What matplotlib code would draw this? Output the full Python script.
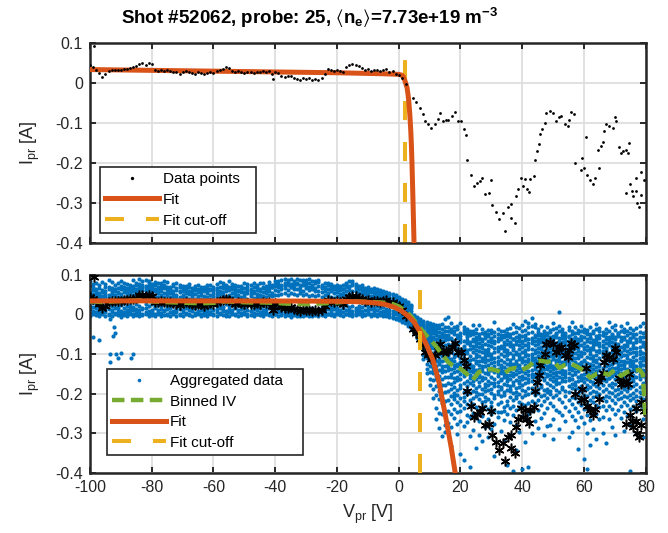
import numpy as np
import matplotlib
matplotlib.use('Agg')
import matplotlib.pyplot as plt
from matplotlib.lines import Line2D

plt.rcParams['font.family'] = ['Liberation Sans', 'DejaVu Sans']
plt.rcParams['axes.unicode_minus'] = False
plt.rcParams['mathtext.fontset'] = 'custom'
plt.rcParams['mathtext.rm'] = 'Liberation Sans'
plt.rcParams['mathtext.bf'] = 'Liberation Sans:bold'
plt.rcParams['mathtext.it'] = 'Liberation Sans:italic'
plt.rcParams['mathtext.default'] = 'regular'
plt.rcParams['lines.scale_dashes'] = False

# ---------------- data ----------------
title_text = r'Shot #52062, probe: 25, $\langle$n$_\mathbf{e}\rangle$=7.73e+19 m$^\mathbf{-3}$'
x_ticks = [-100, -80, -60, -40, -20, 0, 20, 40, 60, 80]
y_ticks = [-0.4, -0.3, -0.2, -0.1, 0, 0.1]
y_tick_labels = ['-0.4', '-0.3', '-0.2', '-0.1', '0', '0.1']

# probe data of this shot (V, mA)
shot_v_left = list(range(-100, 2))
shot_i_left = [45, 40, 33, 25, 15, 22, 30, 33, 34, 33,
               34, 35, 36, 38, 40, 42, 48, 50, 46, 50,
               47, 32, 30, 33, 30, 32, 31, 29, 27, 24,
               28, 31, 29, 26, 24, 27, 25, 22, 25, 28,
               25, 31, 33, 36, 40, 37, 30, 27, 30, 28,
               25, 29, 27, 26, 29, 27, 30, 29, 31, 22,
               28, 26, 18, 15, 17, 19, 14, 11, 8, 13,
               10, 12, 9, 11, 8, 12, 22, 36, 33, 31,
               33, 30, 27, 40, 45, 47, 46, 42, 38, 33,
               36, 31, 33, 34, 31, 33, 35, 29, 31, 24, 20, 12]
shot_v_extra = [-98.7, -40.6]
shot_i_extra = [93, 11]
shot_v_right = [2.5, 4.6, 5.7, 6.8, 7.9, 8.4, 9.5, 10.6, 11.7, 12.7, 13.3, 14.4, 15.2, 16, 17.1,
                18.1, 19.2, 20.3, 21.1, 21.7, 22.1, 23.5, 24.3, 25.3, 26.2, 27.1, 27.8, 29.2,
                29.8, 30.2, 31.4, 32.5, 33.8, 34.3, 35.4, 36.2, 36.5, 37.8, 37.9, 38.6, 39.5,
                40.3, 40.8, 41.4, 42.2, 42.6, 43.8, 44.2, 44.9, 45.4, 45.9, 46.5, 47.3, 47.8,
                48.9, 50, 50.8, 51.9, 52.4, 53.7, 54.8, 55.1, 55.9, 56.7, 57.2, 58.9, 59.4,
                60, 60.5, 61, 61.8, 62.9, 63.7, 64.5, 64.8, 65.5, 66, 66.4, 67.1, 68.2, 69.3,
                70.1, 70.4, 71.4, 71.9, 72.5, 73.5, 73.7, 74.4, 74.6, 74.8, 75.4, 76, 76.8,
                77, 77.2, 77.8, 78.4, 78.6, 79.4]
shot_i_right = [-3, -37, -47, -62, -78, -95, -103, -112, -103, -90, -74, -95, -92, -93, -83,
                -73, -95, -95, -114, -130, -193, -230, -258, -250, -245, -237, -278, -276,
                -243, -305, -323, -341, -324, -370, -310, -303, -337, -350, -283, -265, -237,
                -258, -240, -265, -273, -240, -233, -193, -170, -152, -128, -114, -100, -74,
                -70, -74, -95, -84, -83, -103, -108, -91, -72, -77, -200, -217, -187,
                -213, -134, -230, -242, -253, -238, -168, -213, -158, -148, -120, -103, -107, -112,
                -85, -95, -160, -175, -170, -168, -276, -175, -150, -253, -270, -283, -270,
                -237, -300, -310, -222, -280, -243]

# fit, top panel (V, mA)
fit_top_v = [-100, -60, -20, -5, 0, 1, 1.5, 2, 2.4, 2.7, 3.0, 3.24, 3.6, 3.9, 4.1, 4.3, 4.6, 4.95, 5.1]
fit_top_i = [34, 30, 26, 23.5, 22, 20, 16, 6, -4, -12, -28, -45, -80, -120, -155, -203, -290, -400, -450]
cutoff_top = 2.0

# fit, bottom panel (V, mA)
fit_bot_v = [-100, -60, -30, -20, -14, -10, -7, -5, -3, -1, 1, 3, 5, 7, 9, 11, 13, 15, 17, 18.5]
fit_bot_i = [34, 34, 33.5, 33, 32, 30.5, 28.5, 26, 22, 16.5, 8, -4, -20, -45, -77, -113, -170, -250, -336, -410]
cutoff_bot = 6.8

# binned IV (V, mA)
binned_v = [-100, -96, -92, -88, -84, -80, -76, -72, -68, -64, -60, -56, -52, -48, -44, -40, -36, -32,
            -28, -24, -20, -16, -12, -8, -4, -2, 0, 2, 4, 6, 8, 10, 12, 14, 16, 18, 20, 22, 24,
            26, 28, 30, 32, 34, 36, 38, 40, 42, 44, 46, 48, 50, 52, 54, 56, 58, 60, 62, 64, 66,
            68, 70, 72, 74, 76, 78, 79, 80]
binned_i = [33, 31, 33, 34, 35, 33, 31, 30, 29, 28, 29, 33, 31, 30, 30, 29, 27, 26,
            26, 28, 30, 33, 32, 31, 29, 26, 20, 10, -5, -25, -45, -62, -80, -100, -120, -132, -137, -150, -165,
            -145, -140, -138, -142, -150, -138, -135, -140, -132, -118, -117, -120, -117, -135, -127, -125, -133, -142, -160, -150, -148,
            -152, -140, -155, -145, -142, -140, -150, -270]

# aggregated data of many sweeps: one list of currents (mA) per 1 V column
agg_left_v = list(range(-100, 5))
agg_left_i = [
    [85, 71, 57, 49, 41, 22, 13, 4, -3], [68, 62, 51, 44, 30, 18, 9, 1, 77],
    [79, 58, 53, 46, 26, 15, 7, -2, 64], [73, 66, 55, 42, 20, 11, 3, -5, 48],
    [61, 56, 47, 39, 24, 16, 8, 0, 82], [76, 69, 52, 45, 19, 12, 5, -4, 59],
    [70, 63, 50, 43, 27, 14, 2, -1, 87], [82, 60, 54, 48, 21, 10, 6, -3, 66],
    [65, 59, 49, 40, 25, 17, 4, 0, 74], [78, 67, 57, 44, 18, 13, 7, -2, 53],
    [72, 64, 51, 46, 23, 9, 1, -6, 84], [80, 62, 56, 42, 28, 15, 5, -1, 69],
    [67, 58, 52, 47, 20, 12, 3, -4, 76], [75, 70, 55, 41, 24, 16, 8, 0, 62],
    [86, 66, 60, 49, 19, 11, 2, -3, 71], [79, 73, 58, 51, 26, 14, 6, -1, 65],
    [88, 69, 63, 54, 22, 10, 4, -5, 77], [83, 75, 61, 50, 17, 13, 1, -2, 68],
    [71, 66, 59, 47, 25, 15, 7, 0, 86], [84, 78, 64, 53, 21, 9, 3, -4, 72],
    [76, 70, 57, 49, 27, 12, 5, -1, 63], [81, 65, 60, 46, 18, 16, 2, -3, 74],
    [69, 62, 55, 44, 23, 11, 6, 0, 80], [78, 71, 58, 48, 20, 14, 4, -5, 66],
    [73, 67, 53, 45, 25, 10, 8, -2, 85], [82, 63, 57, 50, 19, 13, 1, -1, 70],
    [70, 65, 54, 43, 22, 15, 5, -4, 61], [77, 59, 52, 47, 26, 9, 3, 0, 72],
    [66, 61, 50, 42, 17, 12, 7, -3, 79], [74, 68, 56, 45, 24, 14, 2, -2, 60],
    [63, 58, 49, 41, 20, 11, 6, -5, 71], [72, 64, 53, 44, 27, 16, 4, 0, 57],
    [68, 60, 51, 40, 18, 10, 1, -1, 76], [59, 55, 48, 43, 23, 13, 8, -4, 67],
    [71, 62, 52, 39, 21, 15, 3, -2, 64], [65, 57, 47, 42, 25, 9, 5, 0, 74],
    [62, 56, 50, 38, 19, 12, 2, -3, 69], [70, 61, 46, 41, 24, 14, 7, -1, 58],
    [66, 59, 53, 44, 17, 11, 4, -5, 75], [73, 63, 49, 40, 22, 16, 6, 0, 61],
    [64, 58, 51, 43, 26, 10, 1, -2, 70], [77, 67, 54, 46, 20, 13, 5, -4, 62],
    [69, 60, 52, 42, 23, 15, 3, 0, 81], [80, 72, 57, 48, 18, 12, 8, -1, 67],
    [75, 64, 59, 45, 25, 9, 2, -3, 71], [83, 70, 61, 50, 21, 14, 6, -5, 66],
    [68, 63, 55, 44, 27, 11, 4, 0, 76], [74, 66, 53, 47, 19, 16, 1, -2, 60],
    [62, 59, 50, 41, 24, 10, 7, -4, 72], [71, 65, 56, 45, 22, 13, 3, -1, 63],
    [67, 57, 49, 43, 17, 15, 5, 0, 78], [76, 61, 54, 40, 26, 12, 2, -3, 69],
    [64, 60, 52, 46, 20, 9, 8, -2, 73], [79, 68, 55, 42, 23, 14, 4, -5, 58],
    [70, 62, 51, 44, 18, 11, 1, 0, 75], [65, 59, 48, 41, 25, 16, 6, -1, 80],
    [78, 69, 57, 47, 21, 10, 3, -4, 66], [72, 64, 53, 45, 27, 13, 7, 0, 61],
    [81, 67, 58, 49, 19, 15, 2, -2, 74], [74, 70, 55, 46, 24, 12, 5, -3, 68],
    [84, 71, 62, 50, 22, 9, 1, 0, 77], [77, 68, 60, 48, 17, 14, 6, -5, 83],
    [86, 75, 64, 52, 21, 8, 3, -1, 71], [88, 79, 66, 54, 15, 6, 0, -4, 73],
    [82, 74, 61, 50, 19, 9, 2, -2, 87], [89, 77, 68, 55, 13, 4, -3, -6, 70],
    [85, 72, 63, 51, 16, 7, 1, -1, 80], [79, 76, 65, 48, 12, 5, -2, -5, 88],
    [87, 70, 62, 53, 14, 8, 0, -3, 75], [81, 73, 59, 49, 11, 3, -4, -1, 86],
    [86, 78, 66, 52, 17, 6, 1, -2, 72], [80, 69, 61, 47, 13, 4, -1, -5, 88],
    [84, 75, 64, 50, 15, 7, 2, -3, 71], [78, 67, 58, 46, 10, 5, -2, 0, 83],
    [82, 72, 60, 49, 14, 8, 1, -4, 87], [75, 66, 57, 45, 18, 9, 3, -1, 70],
    [79, 70, 59, 48, 20, 11, 4, -3, 65], [73, 64, 55, 46, 23, 13, 2, 0, 78],
    [77, 68, 58, 44, 19, 10, 6, -2, 62], [71, 63, 53, 42, 22, 14, 1, -4, 67],
    [75, 66, 56, 47, 17, 9, 5, 0, 60], [69, 61, 52, 43, 25, 12, 3, -1, 72],
    [74, 65, 55, 46, 20, 15, 7, -3, 63], [80, 70, 59, 49, 23, 10, 2, 0, 76],
    [83, 72, 61, 51, 18, 13, 5, -2, 68], [78, 74, 58, 50, 21, 8, 1, -4, 85],
    [76, 67, 60, 48, 16, 11, 4, -1, 71], [71, 65, 54, 45, 22, 14, 6, 0, 64],
    [69, 62, 53, 44, 19, 9, 3, -3, 75], [67, 60, 51, 42, 24, 12, 1, -2, 58],
    [65, 57, 49, 40, 18, 10, 5, 0, 70], [63, 56, 47, 39, 21, 13, 2, -4, 60],
    [61, 54, 46, 38, 16, 8, 4, -1, 67], [59, 52, 44, 36, 20, 11, 0, -3, 64],
    [57, 50, 43, 35, 15, 7, 3, -2, 62], [55, 49, 41, 33, 18, 9, 1, -5, 59],
    [53, 47, 40, 31, 14, 6, -1, -3, 57], [51, 45, 38, 30, 12, 4, -4, -6, 55],
    [48, 42, 35, 27, 9, 2, -6, -8, 52], [45, 39, 32, 24, 6, 0, -8, -11, 49],
    [41, 35, 28, 20, 3, -4, -11, -14, 45], [37, 31, 24, 16, -1, -8, -15, -18, 40],
    [32, 26, 19, 11, -5, -12, -19, -23, 35], [27, 21, 14, 6, -10, -17, -24, -29, 30],
    [21, 15, 8, 0, -15, -22, -30, -35, 24]]
agg_out_v = [-99, -97.2, -93.4, -92.3, -91.9, -92.6, -93.4, -91.5, -90.1, -91, -93.5, -86.7, -86.2]
agg_out_i = [-58, -65, -12, -33, -47, -55, -100, -101, -98, -110, -120, -110, -100]

agg_right_v = list(range(5, 81))
agg_right_i = [
    [-2, -6, -9, -13, -15, -19, -22, -25, -27, -31, -33, -36, -39, -41, -44, -47, -11, -29, -17, -4],
    [-7, -10, -14, -17, -21, -24, -29, -32, -35, -38, -43, -47, -51, -56, -60, -12, -26, -40, -19, -53],
    [-11, -15, -19, -23, -28, -31, -36, -41, -45, -49, -54, -59, -65, -71, -78, -25, -38, -62, -17, -44],
    [-16, -21, -27, -33, -37, -44, -49, -56, -61, -67, -74, -82, -91, -103, -112, -30, -52, -86, -24, -70],
    [-19, -26, -31, -38, -45, -51, -58, -66, -73, -81, -90, -99, -111, -124, -138, -35, -63, -94, -148, -42],
    [-23, -29, -36, -44, -51, -59, -67, -76, -85, -94, -105, -117, -131, -145, -162, -178, -40, -71, -113, -55],
    [-25, -32, -39, -48, -57, -66, -75, -86, -97, -108, -121, -134, -149, -166, -187, -212, -43, -80, -143, -61],
    [-26, -34, -42, -51, -61, -71, -82, -93, -105, -118, -131, -146, -163, -181, -204, -236, -264, -47, -89, -155],
    [-28, -35, -44, -54, -64, -75, -87, -99, -112, -125, -140, -155, -172, -192, -214, -248, -286, -58, -119, -69],
    [-24, -37, -46, -56, -67, -79, -91, -104, -117, -131, -146, -162, -179, -199, -223, -252, -306, -50, -84, -139],
    [-11, -33, -43, -53, -64, -76, -89, -101, -115, -129, -144, -159, -177, -196, -219, -246, -279, -60, -97, -297],
    [-7, -31, -41, -52, -63, -74, -86, -99, -112, -126, -141, -157, -174, -193, -216, -243, -274, -57, -105, -133],
    [-21, -38, -44, -59, -63, -78, -90, -96, -113, -121, -139, -150, -158, -176, -189, -207, -226, -251, -283, -331],
    [-33, -41, -50, -66, -72, -81, -99, -108, -117, -134, -145, -161, -170, -183, -199, -214, -238, -262, -205, -128],
    [-29, -36, -53, -60, -75, -84, -92, -103, -125, -131, -142, -157, -166, -191, -203, -221, -247, -276, -301, -88],
    [-22, -47, -55, -62, -70, -87, -98, -111, -119, -128, -151, -163, -178, -186, -210, -229, -243, -268, -352, -140],
    [-31, -39, -48, -67, -79, -85, -101, -109, -124, -136, -147, -155, -172, -195, -208, -219, -236, -281, -368, -93],
    [-37, -45, -58, -64, -73, -91, -97, -114, -120, -139, -149, -167, -181, -190, -201, -225, -255, -272, -132, -52],
    [-48, -42, -51, -69, -77, -88, -106, -115, -126, -133, -153, -160, -174, -198, -216, -232, -258, -307, -384, -143],
    [-28, -43, -49, -61, -80, -86, -95, -112, -130, -137, -146, -169, -177, -193, -211, -227, -249, -291, -66, -158],
    [-36, -46, -57, -65, -71, -89, -100, -107, -122, -141, -154, -162, -185, -196, -206, -234, -262, -338, -118, -79],
    [-26, -50, -56, -72, -83, -92, -104, -117, -127, -138, -152, -171, -180, -200, -213, -241, -269, -303, -63, -159],
    [-38, -47, -61, -68, -76, -94, -110, -118, -135, -144, -157, -165, -188, -202, -222, -237, -256, -320, -85, -129],
    [-44, -53, -59, -74, -90, -97, -105, -121, -131, -148, -161, -175, -184, -209, -218, -230, -284, -52, -113, -193],
    [-50, -40, -55, -67, -78, -87, -103, -114, -128, -139, -150, -168, -179, -191, -214, -239, -263, -309, -96, -146],
    [-39, -48, -62, -70, -81, -99, -107, -123, -134, -141, -158, -172, -187, -198, -220, -232, -251, -288, -60, -113],
    [-20, -45, -54, -73, -84, -95, -111, -119, -129, -145, -164, -173, -181, -204, -212, -240, -276, -356, -67, -137],
    [-36, -49, -60, -66, -82, -93, -108, -125, -137, -147, -155, -170, -192, -201, -226, -245, -258, -88, -117, -180],
    [-42, -51, -63, -79, -86, -101, -116, -127, -140, -149, -166, -183, -189, -207, -221, -247, -294, -58, -132, -162],
    [-52, -43, -57, -69, -85, -92, -106, -120, -132, -151, -159, -176, -195, -203, -233, -244, -267, -317, -78, -143],
    [-38, -46, -65, -74, -91, -98, -113, -124, -138, -152, -168, -177, -191, -218, -228, -250, -379, -55, -102, -160],
    [-34, -50, -58, -71, -80, -97, -115, -122, -143, -153, -162, -181, -194, -209, -236, -271, -304, -69, -130, -188],
    [-24, -47, -61, -77, -89, -103, -109, -126, -134, -156, -171, -179, -199, -217, -230, -253, -394, -86, -148, -62],
    [-31, -44, -56, -68, -94, -100, -118, -131, -141, -150, -165, -186, -197, -212, -241, -279, -341, -75, -123, -205],
    [-35, -52, -60, -78, -87, -99, -112, -136, -145, -158, -169, -182, -201, -222, -234, -297, -66, -106, -173, -127],
    [-26, -42, -55, -67, -83, -96, -110, -121, -139, -155, -163, -178, -190, -208, -227, -257, -389, -73, -144, -116],
    [-17, -39, -51, -64, -76, -90, -104, -117, -128, -147, -160, -174, -193, -204, -228, -261, -321, -58, -98, -137],
    [-21, -33, -48, -62, -73, -88, -102, -113, -130, -142, -154, -170, -185, -200, -224, -250, -386, -81, -119, -163],
    [-10, -29, -45, -59, -71, -87, -99, -115, -126, -140, -157, -168, -186, -197, -219, -244, -299, -64, -108, -151],
    [-25, -33, -51, -58, -77, -90, -97, -115, -122, -139, -151, -158, -176, -195, -203, -224, -270, -68, -131, -109],
    [-38, -45, -61, -66, -74, -96, -104, -118, -129, -144, -163, -170, -188, -199, -216, -241, -287, -53, -86, -152],
    [-29, -49, -54, -70, -82, -88, -107, -113, -134, -141, -156, -178, -183, -207, -229, -262, -61, -125, -97, -148],
    [-49, -41, -58, -64, -79, -93, -101, -120, -127, -147, -160, -166, -191, -204, -219, -248, -304, -72, -110, -138],
    [-31, -47, -52, -73, -81, -99, -111, -116, -137, -150, -155, -172, -187, -211, -236, -281, -63, -90, -129, -196],
    [-40, -45, -60, -68, -86, -95, -105, -124, -132, -143, -162, -179, -194, -200, -223, -56, -77, -118, -153, -279],
    [-22, -36, -55, -62, -76, -90, -108, -112, -130, -149, -158, -167, -184, -209, -231, -263, -69, -99, -139, -314],
    [-35, -50, -57, -71, -83, -92, -103, -121, -136, -145, -164, -176, -190, -203, -240, -48, -115, -127, -171, -154],
    [7, -30, -43, -59, -66, -84, -94, -110, -117, -128, -146, -157, -173, -197, -214, -245, -74, -102, -290, -135],
    [-37, -44, -53, -69, -80, -98, -106, -119, -140, -151, -161, -182, -188, -220, -255, -60, -89, -125, -168, -144],
    [-51, -46, -58, -64, -78, -87, -104, -114, -126, -142, -159, -169, -192, -206, -233, -270, -71, -97, -150, -121],
    [-33, -39, -58, -74, -82, -95, -113, -123, -138, -148, -165, -181, -196, -217, -244, -55, -67, -131, -310, -160],
    [-18, -42, -49, -63, -79, -91, -100, -116, -133, -153, -162, -175, -185, -208, -227, -257, -72, -108, -297, -140],
    [-31, -48, -56, -67, -86, -97, -109, -128, -135, -146, -170, -178, -199, -212, -235, -266, -60, -121, -150, -187],
    [-39, -46, -61, -70, -84, -103, -111, -125, -143, -157, -167, -186, -201, -221, -246, -283, -78, -92, -339, -134],
    [-29, -43, -54, -65, -77, -94, -106, -119, -131, -152, -166, -180, -194, -210, -229, -260, -58, -99, -158, -122],
    [-36, -45, -57, -73, -88, -98, -114, -130, -139, -160, -171, -191, -204, -214, -238, -274, -82, -118, -364, -151],
    [-47, -40, -50, -68, -81, -90, -107, -122, -135, -147, -163, -177, -189, -206, -226, -254, -300, -61, -389, -141],
    [-33, -49, -60, -69, -85, -101, -110, -126, -144, -154, -168, -183, -199, -216, -237, -267, -56, -93, -329, -133],
    [-41, -47, -64, -79, -87, -104, -117, -128, -149, -158, -175, -193, -209, -222, -249, -290, -71, -139, -170, -112],
    [-25, -38, -55, -62, -75, -92, -103, -121, -133, -150, -161, -181, -195, -207, -228, -251, -66, -143, -314, -114],
    [-35, -43, -59, -72, -80, -96, -109, -124, -141, -155, -172, -186, -200, -213, -234, -263, -52, -89, -155, -130],
    [-53, -44, -51, -67, -83, -93, -106, -119, -136, -147, -165, -178, -192, -211, -232, -258, -76, -101, -299, -158],
    [-37, -46, -62, -71, -89, -100, -112, -131, -142, -162, -169, -188, -205, -218, -241, -57, -84, -125, -324, -150],
    [-20, -41, -56, -64, -78, -97, -108, -118, -138, -149, -160, -179, -197, -209, -230, -265, -69, -127, -161, -143],
    [-32, -50, -53, -70, -85, -94, -115, -125, -145, -156, -173, -184, -198, -215, -239, -60, -79, -134, -284, -107],
    [-26, -39, -58, -63, -76, -91, -104, -120, -134, -151, -164, -176, -191, -206, -224, -252, -71, -111, -304, -145],
    [-46, -47, -55, -74, -87, -99, -113, -130, -146, -157, -167, -187, -202, -214, -240, -52, -93, -122, -163, -139],
    [-30, -42, -57, -66, -82, -95, -106, -127, -137, -152, -171, -180, -196, -211, -231, -261, -64, -117, -149, -105],
    [-38, -45, -61, -77, -84, -102, -118, -128, -148, -159, -177, -189, -207, -220, -246, -56, -90, -136, -294, -123],
    [-22, -43, -52, -68, -80, -93, -111, -121, -139, -150, -166, -182, -194, -209, -229, -257, -75, -103, -169, -144],
    [-34, -48, -60, -69, -88, -97, -114, -126, -142, -161, -170, -186, -203, -216, -238, -279, -63, -119, -394, -131],
    [-50, -40, -54, -72, -79, -96, -108, -124, -140, -153, -168, -181, -198, -212, -230, -58, -86, -133, -160, -117],
    [-35, -49, -63, -70, -86, -103, -115, -130, -144, -158, -175, -190, -205, -218, -243, -269, -67, -95, -299, -137],
    [-29, -44, -56, -67, -83, -92, -110, -123, -138, -155, -164, -183, -197, -208, -228, -59, -101, -129, -150, -121],
    [-21, -46, -58, -74, -81, -98, -116, -127, -141, -156, -173, -185, -200, -214, -235, -264, -70, -108, -309, -147],
    [-32, -41, -55, -71, -84, -99, -112, -125, -143, -159, -171, -187, -201, -213, -234, -57, -88, -131, -162, -118]]

# ---------------- colours / styles ----------------
C_BLUE = '#0072BD'
C_ORANGE = '#D95319'
C_YELLOW = '#EDB120'
C_GREEN = '#77AC30'
C_AX = '#262626'
C_GRID = '#dedede'

def flatten(vs, cols):
    xs, ys = [], []
    for v, col in zip(vs, cols):
        xs.extend([v] * len(col))
        ys.extend(col)
    return np.array(xs, float), np.array(ys, float) / 1000.0

shot_v = np.array(shot_v_left + shot_v_extra + shot_v_right, float)
shot_i = np.array(shot_i_left + shot_i_extra + shot_i_right, float) / 1000.0

fig = plt.figure(figsize=(6.68, 5.33), dpi=100)
ax1 = fig.add_axes([0.1347, 0.544, 0.832, 0.375])
ax2 = fig.add_axes([0.1347, 0.1126, 0.832, 0.372])

def style(ax, show_xlabels):
    ax.set_xlim(-100, 80)
    ax.set_ylim(-0.4, 0.1)
    ax.set_xticks(x_ticks)
    ax.set_yticks(y_ticks)
    ax.set_yticklabels(y_tick_labels)
    if not show_xlabels:
        ax.set_xticklabels([])
    ax.grid(True, color=C_GRID, lw=1.3, zorder=0)
    ax.set_axisbelow(True)
    ax.tick_params(direction='in', top=True, right=True, length=4.5, width=1.4,
                   colors=C_AX, labelsize=11.5, pad=5)
    for sp in ax.spines.values():
        sp.set_linewidth(1.8)
        sp.set_color(C_AX)
    ax.set_ylabel(r'I$_{pr}$ [A]', fontsize=13, color=C_AX)
    ax.yaxis.set_label_coords(-0.086, 0.5)

YD = (13.7, 15.8)
GD = (9.0, 4.6)
BLUE_MS = 3.0

# top panel
ax1.plot(np.array(fit_top_v), np.array(fit_top_i) / 1000, color=C_ORANGE, lw=3.6, zorder=3,
         solid_capstyle='butt')
ax1.plot(shot_v, shot_i, 'o', color='k', ms=2.0, mec='none', zorder=4)
ax1.plot([cutoff_top, cutoff_top], [-0.4, 0.1], color=C_YELLOW, lw=2.9, dashes=YD, zorder=2)
style(ax1, False)

h1 = [Line2D([], [], marker='o', ms=2.4, color='k', ls='none', mec='none'),
      Line2D([], [], color=C_ORANGE, lw=3.6),
      Line2D([], [], color=C_YELLOW, lw=2.9, dashes=YD)]
leg1 = ax1.legend(h1, ['Data points', 'Fit', 'Fit cut-off'], loc='lower left',
                  bbox_to_anchor=(0.018, 0.05, 0.2806, 0.33), mode='expand',
                  fontsize=11, handlelength=3.5, handletextpad=0.25, labelspacing=0.45,
                  borderpad=0.35, fancybox=False, framealpha=1, edgecolor=C_AX, borderaxespad=0)
leg1.get_frame().set_linewidth(1.2)

# bottom panel
ax2.plot(*flatten(agg_left_v, agg_left_i), 'o', color=C_BLUE, ms=BLUE_MS, mec='none', zorder=2)
ax2.plot(*flatten(agg_right_v, agg_right_i), 'o', color=C_BLUE, ms=BLUE_MS, mec='none', zorder=2)
ax2.plot(np.array(agg_out_v), np.array(agg_out_i) / 1000, 'o', color=C_BLUE, ms=BLUE_MS, mec='none', zorder=2)
ax2.plot(shot_v, shot_i, ls='none', marker=(6, 2, 0), color='k', ms=7, mew=1.1, zorder=3)
ax2.plot(np.array(binned_v), np.array(binned_i) / 1000, color=C_GREEN, lw=3.2, dashes=GD, zorder=4)
ax2.plot(np.array(fit_bot_v), np.array(fit_bot_i) / 1000, color=C_ORANGE, lw=3.6, zorder=5)
ax2.plot([cutoff_bot, cutoff_bot], [-0.4, 0.1], color=C_YELLOW, lw=2.9, dashes=YD, zorder=6)
style(ax2, True)
ax2.set_xlabel(r'V$_{pr}$ [V]', fontsize=13, color=C_AX)
ax2.xaxis.set_label_coords(0.5, -0.15)

h2 = [Line2D([], [], marker='o', ms=2.6, color=C_BLUE, ls='none', mec='none'),
      Line2D([], [], color=C_GREEN, lw=3.2, dashes=GD),
      Line2D([], [], color=C_ORANGE, lw=3.6),
      Line2D([], [], color=C_YELLOW, lw=2.9, dashes=YD)]
leg2 = ax2.legend(h2, ['Aggregated data', 'Binned IV', 'Fit', 'Fit cut-off'], loc='lower left',
                  bbox_to_anchor=(0.0306, 0.091, 0.3525, 0.43), mode='expand',
                  fontsize=11, handlelength=3.5, handletextpad=0.25, labelspacing=0.42,
                  borderpad=0.35, fancybox=False, framealpha=1, edgecolor=C_AX, borderaxespad=0)
leg2.get_frame().set_linewidth(1.2)

fig.text(310 / 668, 1 - 6 / 533, title_text, ha='center', va='top', fontsize=13.5,
         fontweight='bold', color='k')

fig.savefig('out.png', dpi=100, facecolor='white')
